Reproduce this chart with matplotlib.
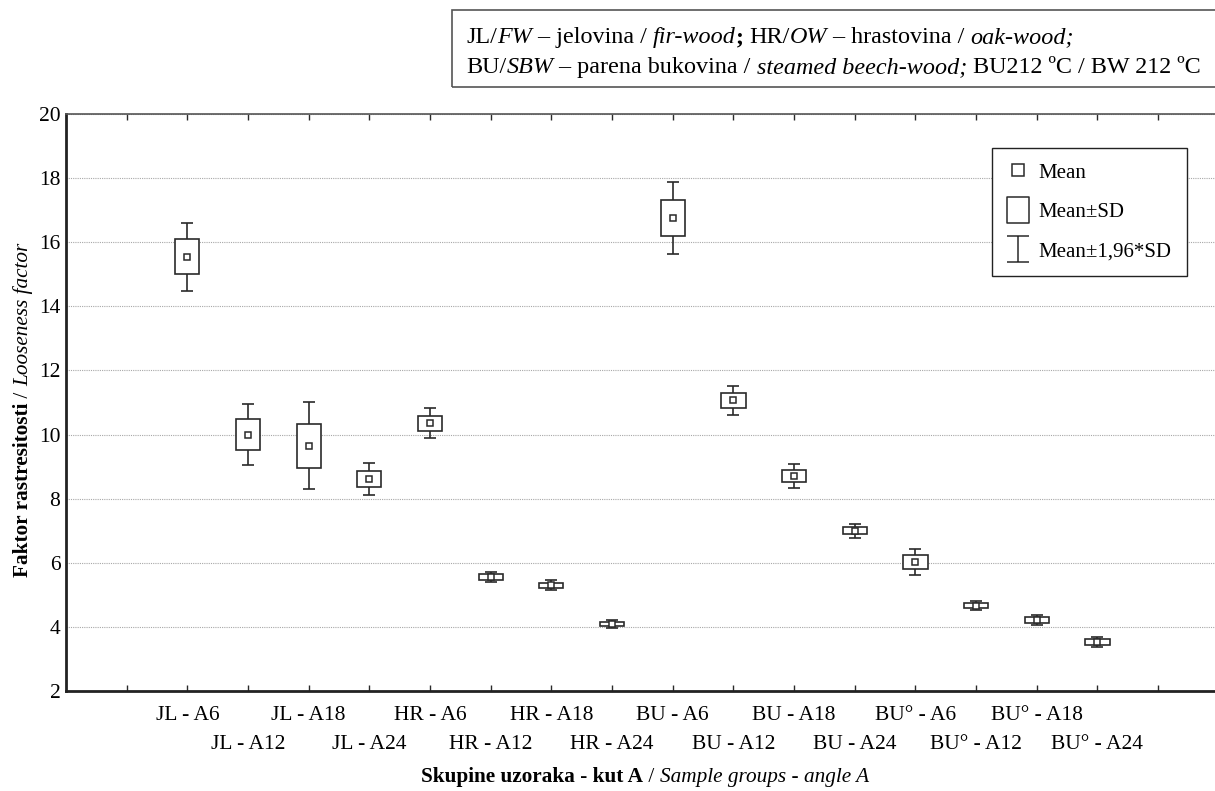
import numpy as np
import matplotlib
matplotlib.use('Agg')
import matplotlib.pyplot as plt
from matplotlib.patches import Rectangle
from matplotlib.lines import Line2D
from matplotlib.path import Path

plt.rcParams['font.family'] = ['Liberation Serif', 'DejaVu Serif']

# Data: mean and SD of the looseness factor per sample group
groups = ['JL - A6', 'JL - A12', 'JL - A18', 'JL - A24',
          'HR - A6', 'HR - A12', 'HR - A18', 'HR - A24',
          'BU - A6', 'BU - A12', 'BU - A18', 'BU - A24',
          'BU° - A6', 'BU° - A12', 'BU° - A18', 'BU° - A24']
means = [15.55, 10.00, 9.65, 8.61,
         10.35, 5.56, 5.30, 4.09,
         16.76, 11.07, 8.71, 7.00,
         6.03, 4.66, 4.21, 3.53]
sds = [0.54, 0.49, 0.69, 0.255,
       0.24, 0.085, 0.08, 0.07,
       0.57, 0.23, 0.19, 0.11,
       0.21, 0.07, 0.085, 0.08]
y_ticks = [2, 4, 6, 8, 10, 12, 14, 16, 18, 20]

W, H = 1215, 791
fig = plt.figure(figsize=(W / 100, H / 100), dpi=100)
renderer = fig.canvas.get_renderer()

# main axes (right part runs off the page like in the original)
ax = fig.add_axes([66 / W, 1 - 691 / H, 19 * 60.67 / W, (691 - 114) / H])
ax.set_xlim(0, 19)
ax.set_ylim(2, 20)
ax.set_axisbelow(True)
ax.yaxis.grid(True, color='#a8a8a8', lw=0.8, ls=(0, (1, 1)))

dark = '#2a2a2a'
pos = np.arange(2, 2 + len(groups))
for x, m, s in zip(pos, means, sds):
    lo, hi = m - 1.96 * s, m + 1.96 * s
    ax.vlines(x, m + s, hi, color=dark, lw=1.2, zorder=3)
    ax.vlines(x, lo, m - s, color=dark, lw=1.2, zorder=3)
    ax.hlines([lo, hi], x - 0.1, x + 0.1, color=dark, lw=1.2, zorder=3)
    ax.add_patch(Rectangle((x - 0.2, m - s), 0.4, 2 * s, facecolor='white',
                           edgecolor=dark, lw=1.2, zorder=4))
    ax.plot(x, m, 's', ms=5, mfc='white', mec=dark, mew=1.1, zorder=5)

# x ticks: every integer, labels staggered on two rows
# (first row on major ticks, second row on minor ticks with a bigger pad)
ax.set_xticks(pos[0::2])
ax.set_xticklabels(groups[0::2], fontsize=15.5)
minor_pos = [1] + list(pos[1::2]) + [18]
ax.set_xticks(minor_pos, minor=True)
ax.set_xticklabels([''] + groups[1::2] + [''], minor=True, fontsize=15.5)
ax.tick_params(axis='x', which='both', direction='in', top=True, length=4,
               width=1, color=dark)
ax.tick_params(axis='x', which='major', pad=11)
ax.tick_params(axis='x', which='minor', pad=32)
ax.set_yticks(y_ticks)
ax.set_yticklabels([str(v) for v in y_ticks], fontsize=15.5)
ax.tick_params(axis='y', length=0, pad=4)

for side in ['left', 'bottom']:
    ax.spines[side].set_linewidth(2)
    ax.spines[side].set_color('#222222')
ax.spines['top'].set_linewidth(1.2)
ax.spines['top'].set_color('#555555')
ax.spines['right'].set_visible(False)


def text_width(s, size, style, weight):
    t = fig.text(0, 0, '|' + s + '|', fontsize=size, style=style, weight=weight)
    w = t.get_window_extent(renderer).width
    t.remove()
    t = fig.text(0, 0, '||', fontsize=size, style=style, weight=weight)
    w -= t.get_window_extent(renderer).width
    t.remove()
    return w


def rich_text(x, y, parts, size, vertical=False, center=False):
    # x, y in pixels from the top-left corner, baseline start
    widths = [text_width(s, size, st, wt) for s, st, wt in parts]
    if center:
        if vertical:
            y += sum(widths) / 2
        else:
            x -= sum(widths) / 2
    for (s, st, wt), w in zip(parts, widths):
        fig.text(x / W, 1 - y / H, s, fontsize=size, style=st, weight=wt,
                 ha='left', va='baseline', rotation=90 if vertical else 0,
                 rotation_mode='anchor')
        if vertical:
            y -= w
        else:
            x += w


n, it, b = 'normal', 'italic', 'bold'

# top note box
fig.patches.append(Rectangle((452 / W, 1 - 87 / H), (1220 - 452) / W, 77 / H,
                             transform=fig.transFigure, fill=False,
                             edgecolor='#555555', lw=1.2))
rich_text(466, 43, [('JL/', n, n), ('FW', it, n), (' – jelovina / ', n, n),
                    ('fir-wood', it, n), ('; ', n, b), ('HR/', n, n),
                    ('OW', it, n), (' – hrastovina / ', n, n),
                    ('oak-wood;', it, n)], 17.4)
rich_text(466, 73, [('BU/', n, n), ('SBW', it, n),
                    (' – parena bukovina / ', n, n),
                    ('steamed beech-wood;', it, n),
                    (' BU212 ºC / BW 212 ºC', n, n)], 17.4)

# axis titles
rich_text(645, 782, [('Skupine uzoraka - kut A', n, b), (' / ', n, n),
                     ('Sample groups - angle A', it, n)], 15.3, center=True)
rich_text(28, 410, [('Faktor rastresitosti', n, b), (' / ', n, n),
                    ('Looseness factor', it, n)], 15.3, vertical=True, center=True)

# legend
rect_path = Path([(-0.8, -1), (0.8, -1), (0.8, 1), (-0.8, 1), (-0.8, -1)],
                 [Path.MOVETO, Path.LINETO, Path.LINETO, Path.LINETO, Path.CLOSEPOLY])
ibeam_path = Path([(-0.8, 1), (0.8, 1), (0, 1), (0, -1), (-0.8, -1), (0.8, -1)],
                  [Path.MOVETO, Path.LINETO, Path.MOVETO, Path.LINETO,
                   Path.MOVETO, Path.LINETO])
handles = [
    Line2D([], [], ls='none', marker='s', ms=8.5, mfc='white', mec=dark, mew=1.1),
    Line2D([], [], ls='none', marker=rect_path, ms=19, mfc='white', mec=dark, mew=1.1),
    Line2D([], [], ls='none', marker=ibeam_path, ms=19, mfc='none', mec=dark, mew=1.1),
]
leg = fig.legend(handles, ['Mean', 'Mean±SD', 'Mean±1,96*SD'],
                 loc='upper left', bbox_to_anchor=(992 / W, 1 - 148 / H),
                 bbox_transform=fig.transFigure, fontsize=15, frameon=True,
                 fancybox=False, framealpha=1, edgecolor='#222222',
                 borderpad=0.72, handlelength=1.1, handletextpad=0.42,
                 labelspacing=0.95, borderaxespad=0)
leg.get_frame().set_linewidth(1)

fig.savefig('out.png', dpi=100)
